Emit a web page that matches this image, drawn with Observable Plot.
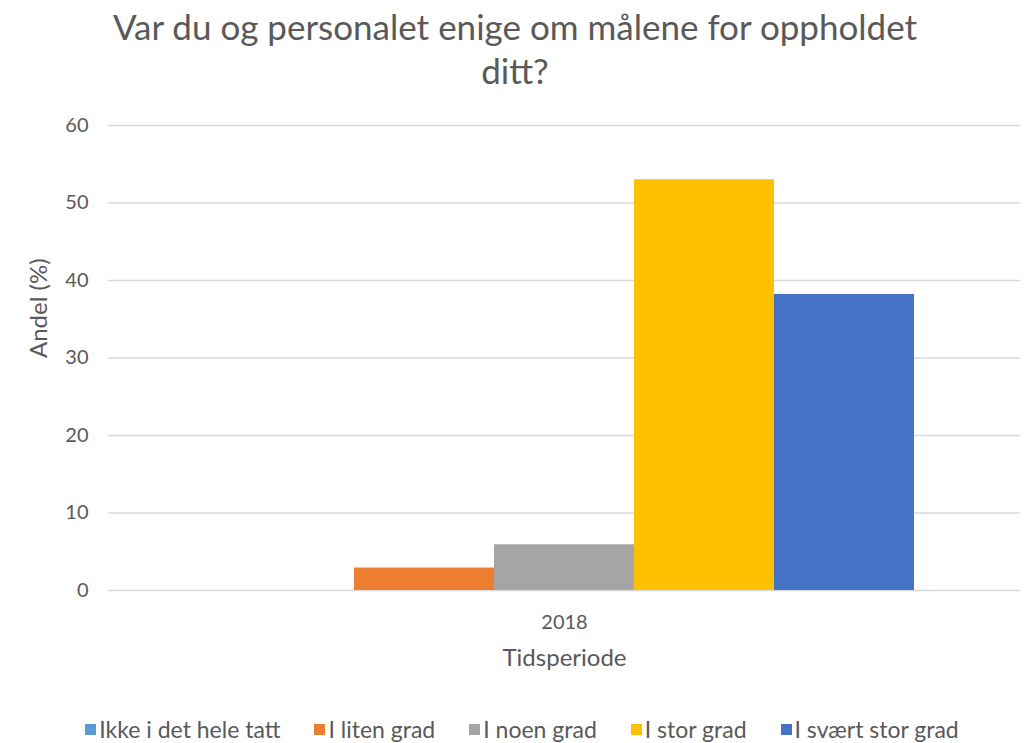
<!DOCTYPE html>
<html>
<head>
<meta charset="utf-8">
<script src="https://cdn.jsdelivr.net/npm/d3@7"></script>
<script src="https://cdn.jsdelivr.net/npm/@observablehq/plot@0.6"></script>
<style>
  html, body { margin: 0; padding: 0; background: #fff; }
  body { width: 1030px; height: 743px; font-family: Lato, "Open Sans", sans-serif; color: #595959; overflow: hidden; }
  #title { text-align: center; font-size: 35px; line-height: 44px; padding-top: 4px; height: 94px; box-sizing: border-box; }
  #legend { display: flex; justify-content: center; gap: 34px; font-size: 23px; margin-top: 25px; padding-left: 14px; }
  .item { display: flex; align-items: center; }
  .sw { width: 11px; height: 11px; margin-right: 3px; }
</style>
</head>
<body>
<div id="title">Var du og personalet enige om målene for oppholdet<br>ditt?</div>
<div id="chart"></div>
<div id="legend"></div>
<script>
const categories = ["Ikke i det hele tatt", "I liten grad", "I noen grad", "I stor grad", "I svært stor grad"];
const values = [0, 2.9, 5.9, 53, 38.2];
const colors = ["#5B9BD5", "#ED7D31", "#A5A5A5", "#FFC000", "#4472C4"];
const periods = ["2018"];
const yTicks = [0, 10, 20, 30, 40, 50, 60];

const data = categories.map((c, i) => ({period: periods[0], cat: c, value: values[i]}));

const chart = Plot.plot({
  width: 1030,
  height: 596,
  marginTop: 31,
  marginBottom: 100,
  marginLeft: 108,
  marginRight: 10,
  style: {fontFamily: "Lato, 'Open Sans', sans-serif", fontSize: "20px", color: "#595959", background: "#fff"},
  fx: {domain: periods, padding: 0},
  x: {domain: categories, paddingInner: 0, paddingOuter: 0.743, axis: null},
  y: {domain: [0, 60]},
  color: {domain: categories, range: colors},
  marks: [
    Plot.gridY(yTicks, {stroke: "#d9d9d9", strokeOpacity: 1, strokeWidth: 1.3}),
    Plot.barY(data, {fx: "period", x: "cat", y: "value", fill: "cat"}),
    Plot.axisY(yTicks, {tickSize: 0, tickPadding: 20, label: null}),
    Plot.axisFx({anchor: "bottom", tickSize: 0, tickPadding: 24, label: null}),
    Plot.text(["Andel (%)"], {frameAnchor: "left", rotate: -90, dx: -69, fontSize: 24, fill: "#595959"}),
    Plot.text(["Tidsperiode"], {frameAnchor: "bottom", dy: 75, fontSize: 24, fill: "#595959"})
  ]
});
document.getElementById("chart").appendChild(chart);

const legend = document.getElementById("legend");
categories.forEach((c, i) => {
  const it = document.createElement("div");
  it.className = "item";
  const sw = document.createElement("div");
  sw.className = "sw";
  sw.style.background = colors[i];
  const t = document.createElement("span");
  t.textContent = c;
  it.appendChild(sw); it.appendChild(t);
  legend.appendChild(it);
});
</script>
</body>
</html>
